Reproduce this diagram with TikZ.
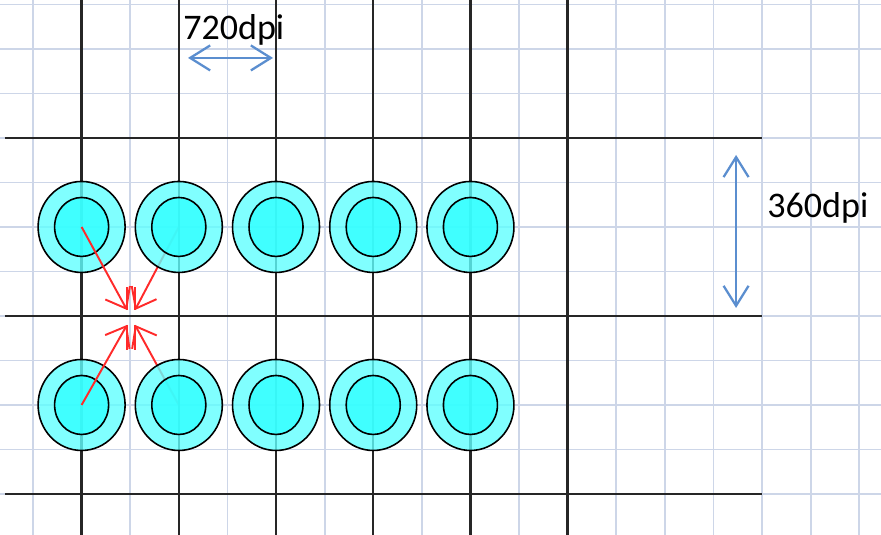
\documentclass[tikz,border=0pt]{standalone}
\usepackage{fontspec}
\setmainfont{Carlito}
\usetikzlibrary{arrows.meta,shapes.geometric}
\definecolor{gridblue}{HTML}{CDD6E8}
\definecolor{ringcyan}{HTML}{60FFFF}
\definecolor{corecyan}{HTML}{30FFFF}
\definecolor{dimblue}{HTML}{5B8ECF}
\definecolor{pitchred}{HTML}{FF2A2A}
\pgfdeclarelayer{under}
\pgfsetlayers{under,main}
\tikzset{
  ring/.style={ellipse, draw=black, line width=0.9pt, fill=ringcyan, fill opacity=0.8,
    minimum width=1.74cm, minimum height=1.82cm, inner sep=0pt},
  core/.style={ellipse, draw=black, line width=0.9pt, fill=corecyan, fill opacity=0.8,
    minimum width=1.08cm, minimum height=1.18cm, inner sep=0pt},
  pitch/.style={pitchred, line width=1.1pt, -{Straight Barb[length=3.6mm,width=5.6mm]}},
  dim/.style={dimblue, line width=1.3pt,
    {Straight Barb[length=4mm,width=5mm]}-{Straight Barb[length=4mm,width=5mm]}},
  dpitext/.style={font=\fontsize{20.5}{24}\selectfont, inner sep=0pt, anchor=base west}
}
\begin{document}
\begin{tikzpicture}[x=0.972cm, y=0.89cm]
  \useasboundingbox (-0.679,0.08) rectangle (17.447,12.1);
  \begin{pgfonlayer}{under}
    \draw[gridblue, line width=1pt, step=1] (-0.68,0.08) grid (17.45,12.1);
  \end{pgfonlayer}
  % heavy lines
  \draw[black!85, line width=1.4pt] (1,0.08) -- (1,12.1) (3,0.08) -- (3,12.1)
    (5,0.08) -- (5,12.1) (7,0.08) -- (7,12.1) (9,0.08) -- (9,12.1) (11,0.08) -- (11,12.1);
  \draw[black!85, line width=1.4pt] (-0.58,9) -- (15,9) (-0.58,5) -- (15,5) (-0.58,1) -- (15,1);
  % dots
  \node[ring] (t1) at (1,7) {}; \node[core] at (t1) {};
  \node[ring] (t2) at (3,7) {}; \node[core] at (t2) {};
  \node[ring] (t3) at (5,7) {}; \node[core] at (t3) {};
  \node[ring] (t4) at (7,7) {}; \node[core] at (t4) {};
  \node[ring] (t5) at (9,7) {}; \node[core] at (t5) {};
  \node[ring] (b1) at (1,3) {}; \node[core] at (b1) {};
  \node[ring] (b2) at (3,3) {}; \node[core] at (b2) {};
  \node[ring] (b3) at (5,3) {}; \node[core] at (b3) {};
  \node[ring] (b4) at (7,3) {}; \node[core] at (b4) {};
  \node[ring] (b5) at (9,3) {}; \node[core] at (b5) {};
  % red arrows
  \coordinate (tl) at (1.934,5.135);
  \coordinate (tr) at (2.099,5.135);
  \coordinate (bl) at (1.934,4.798);
  \coordinate (br) at (2.099,4.798);
  \begin{pgfonlayer}{under}
    \draw[pitch] (t2.center) -- (tr);
    \draw[pitch] (b2.center) -- (br);
  \end{pgfonlayer}
  \draw[pitch] (t1.center) -- (tl);
  \draw[pitch] (b1.center) -- (bl);
  \draw[pitchred, line width=1.1pt] (tl) -- ++(0,0.52) (tr) -- ++(0,0.52);
  \draw[pitchred, line width=1.1pt] (bl) -- ++(0,-0.56) (br) -- ++(0,-0.56);
  % resolution marks
  \coordinate (hl) at (3.189,10.798);
  \coordinate (hr) at (4.938,10.798);
  \draw[dim] (hl) -- (hr);
  \node[dpitext] (h) at (3.086,11.202) {720dpi};
  \coordinate (vt) at (14.465,8.618);
  \coordinate (vb) at (14.465,5.18);
  \draw[dim] (vt) -- (vb);
  \node[dpitext] (v) at (15.103,7.202) {360dpi};
\end{tikzpicture}
\end{document}
